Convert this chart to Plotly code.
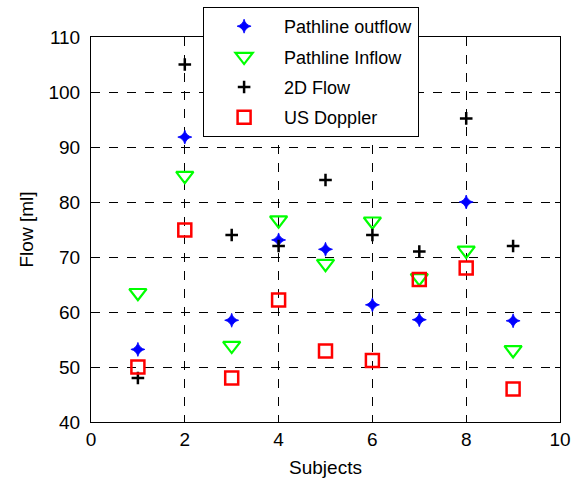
import plotly.graph_objects as go

subjects = [1, 2, 3, 4, 5, 6, 7, 8, 9]
pathline_outflow = [53.2, 91.8, 58.5, 73.1, 71.4, 61.3, 58.6, 80.0, 58.4]
pathline_inflow = [63.5, 84.8, 53.9, 76.7, 68.8, 76.5, 66.2, 71.2, 53.1]
flow_2d = [48.0, 105.0, 74.0, 72.0, 84.0, 74.0, 71.0, 95.2, 72.0]
us_doppler = [50.0, 74.9, 48.0, 62.2, 52.9, 51.2, 65.9, 68.0, 46.0]

x_ticks = [0, 2, 4, 6, 8, 10]
y_ticks = [40, 50, 60, 70, 80, 90, 100, 110]

fig = go.Figure()
fig.add_trace(go.Scatter(x=subjects, y=pathline_outflow, mode="markers", name="Pathline outflow",
                         legendgroup="a",
                         marker=dict(symbol="star-diamond", size=10, color="#0000ff",
                                     line=dict(width=0.8, color="#0000ff"))))
fig.add_trace(go.Scatter(x=subjects, y=pathline_inflow, mode="markers", name="Pathline Inflow",
                         legendgroup="b",
                         marker=dict(symbol="triangle-down-open", size=15, color="#00ff00",
                                     line=dict(width=2.2, color="#00ff00"))))
fig.add_trace(go.Scatter(x=subjects, y=flow_2d, mode="markers", name="2D Flow",
                         legendgroup="c",
                         marker=dict(symbol="cross-thin-open", size=9, color="black",
                                     line=dict(width=2.5, color="black"))))
fig.add_trace(go.Scatter(x=subjects, y=us_doppler, mode="markers", name="US Doppler",
                         legendgroup="d",
                         marker=dict(symbol="square-open", size=13, color="#ff0000",
                                     line=dict(width=2.5, color="#ff0000"))))

axis_common = dict(showline=True, linecolor="black", linewidth=1, mirror="ticks",
                   ticks="inside", ticklen=5, tickcolor="black",
                   showgrid=True, gridcolor="black", griddash="dash", gridwidth=1,
                   zeroline=False, tickfont=dict(size=19, color="black"))

fig.update_xaxes(range=[0, 10], tickvals=x_ticks, ticklabelstandoff=0,
                 title=dict(text="Subjects", font=dict(size=19, color="black"), standoff=12),
                 **axis_common)
fig.update_yaxes(range=[40, 110], tickvals=y_ticks, ticklabelstandoff=6,
                 title=dict(text="Flow [ml]", font=dict(size=19, color="black"), standoff=9),
                 **axis_common)

fig.update_layout(
    width=576, height=478,
    margin=dict(l=91, r=16, t=37, b=56, autoexpand=False),
    paper_bgcolor="white", plot_bgcolor="white",
    font=dict(family="Liberation Sans, Arial, sans-serif", size=18, color="black"),
    legend=dict(x=0.239, y=1.078, xanchor="left", yanchor="top",
                bgcolor="white", bordercolor="black", borderwidth=1,
                font=dict(size=18, color="black"), itemwidth=70,
                traceorder="grouped", tracegroupgap=4),
)

# remove the browser's default 8px body margin so the figure sits at the window's corner
fig.write_html("out.html", config={"displayModeBar": False},
               post_script="document.body.style.margin='0';")
